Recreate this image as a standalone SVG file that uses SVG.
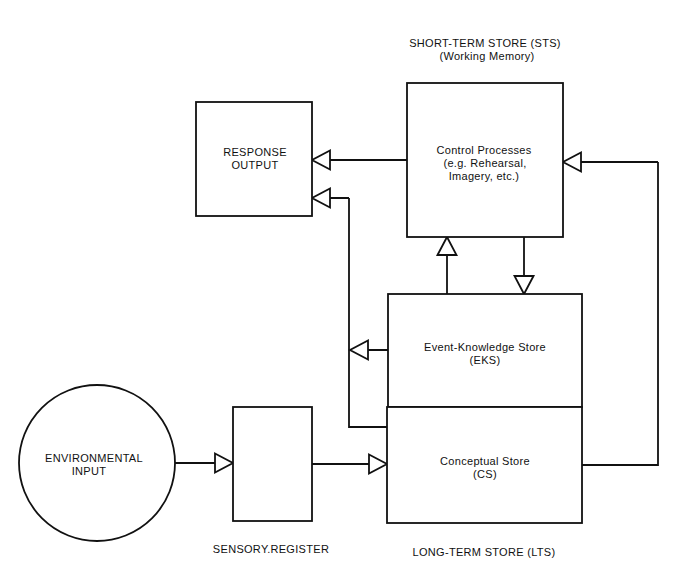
<svg xmlns="http://www.w3.org/2000/svg" width="698" height="573" viewBox="0 0 698 573">
<style>
  .box { fill: #ffffff; stroke: #111111; stroke-width: 1.8; }
  .conn { fill: none; stroke: #111111; stroke-width: 1.8; marker-end: url(#tri); }
  .plain { fill: none; stroke: #111111; stroke-width: 1.8; }
  text { font-family: "Liberation Sans", Arial, sans-serif; font-size: 11px; letter-spacing: 0.3px; fill: #111111; text-anchor: middle; }
</style>
<defs>
  <marker id="tri" markerUnits="userSpaceOnUse" markerWidth="22" markerHeight="24" refX="19" refY="11" orient="auto" overflow="visible">
    <path d="M1,1.5 L19,11 L1,20.5 Z" fill="#ffffff" stroke="#111111" stroke-width="1.8" stroke-linejoin="miter"/>
  </marker>
</defs>
<rect width="698" height="573" fill="#ffffff"/>

<g id="connectors">
  <path class="conn" d="M407,160 L312,160"/>
  <path class="plain" d="M387,427 L349,427 L349,198"/>
  <path class="conn" d="M349,198 L312,198"/>
  <path class="conn" d="M388,350 L350,350"/>
  <path class="conn" d="M447,294 L447,237"/>
  <path class="conn" d="M524,237 L524,294"/>
  <path class="plain" d="M582,465 L658,465 L658,162"/>
  <path class="conn" d="M658,162 L563,162"/>
  <path class="conn" d="M175,463 L233,463"/>
  <path class="conn" d="M312,464 L387,464"/>
</g>

<g id="sts">
  <text x="485" y="47">SHORT-TERM STORE (STS)</text>
  <text x="487" y="60">(Working Memory)</text>
  <rect class="box" x="407" y="83" width="156" height="154"/>
  <text x="484" y="154">Control Processes</text>
  <text x="485" y="167">(e.g. Rehearsal,</text>
  <text x="484" y="180">Imagery, etc.)</text>
</g>

<g id="response">
  <rect class="box" x="196" y="102" width="116" height="114"/>
  <text x="255" y="156">RESPONSE</text>
  <text x="255" y="169">OUTPUT</text>
</g>

<g id="eks">
  <rect class="box" x="388" y="294" width="194" height="113"/>
  <text x="485" y="351">Event-Knowledge Store</text>
  <text x="485" y="364">(EKS)</text>
</g>

<g id="cs">
  <rect class="box" x="387" y="407" width="195" height="116"/>
  <text x="485" y="465">Conceptual Store</text>
  <text x="485" y="478">(CS)</text>
  <text x="484" y="556">LONG-TERM STORE (LTS)</text>
</g>

<g id="sensory">
  <rect class="box" x="233" y="407" width="79" height="114"/>
  <text x="271" y="553">SENSORY.REGISTER</text>
</g>

<g id="environment">
  <circle class="box" cx="97" cy="463" r="78"/>
  <text x="94" y="462">ENVIRONMENTAL</text>
  <text x="89" y="475">INPUT</text>
</g>
</svg>
